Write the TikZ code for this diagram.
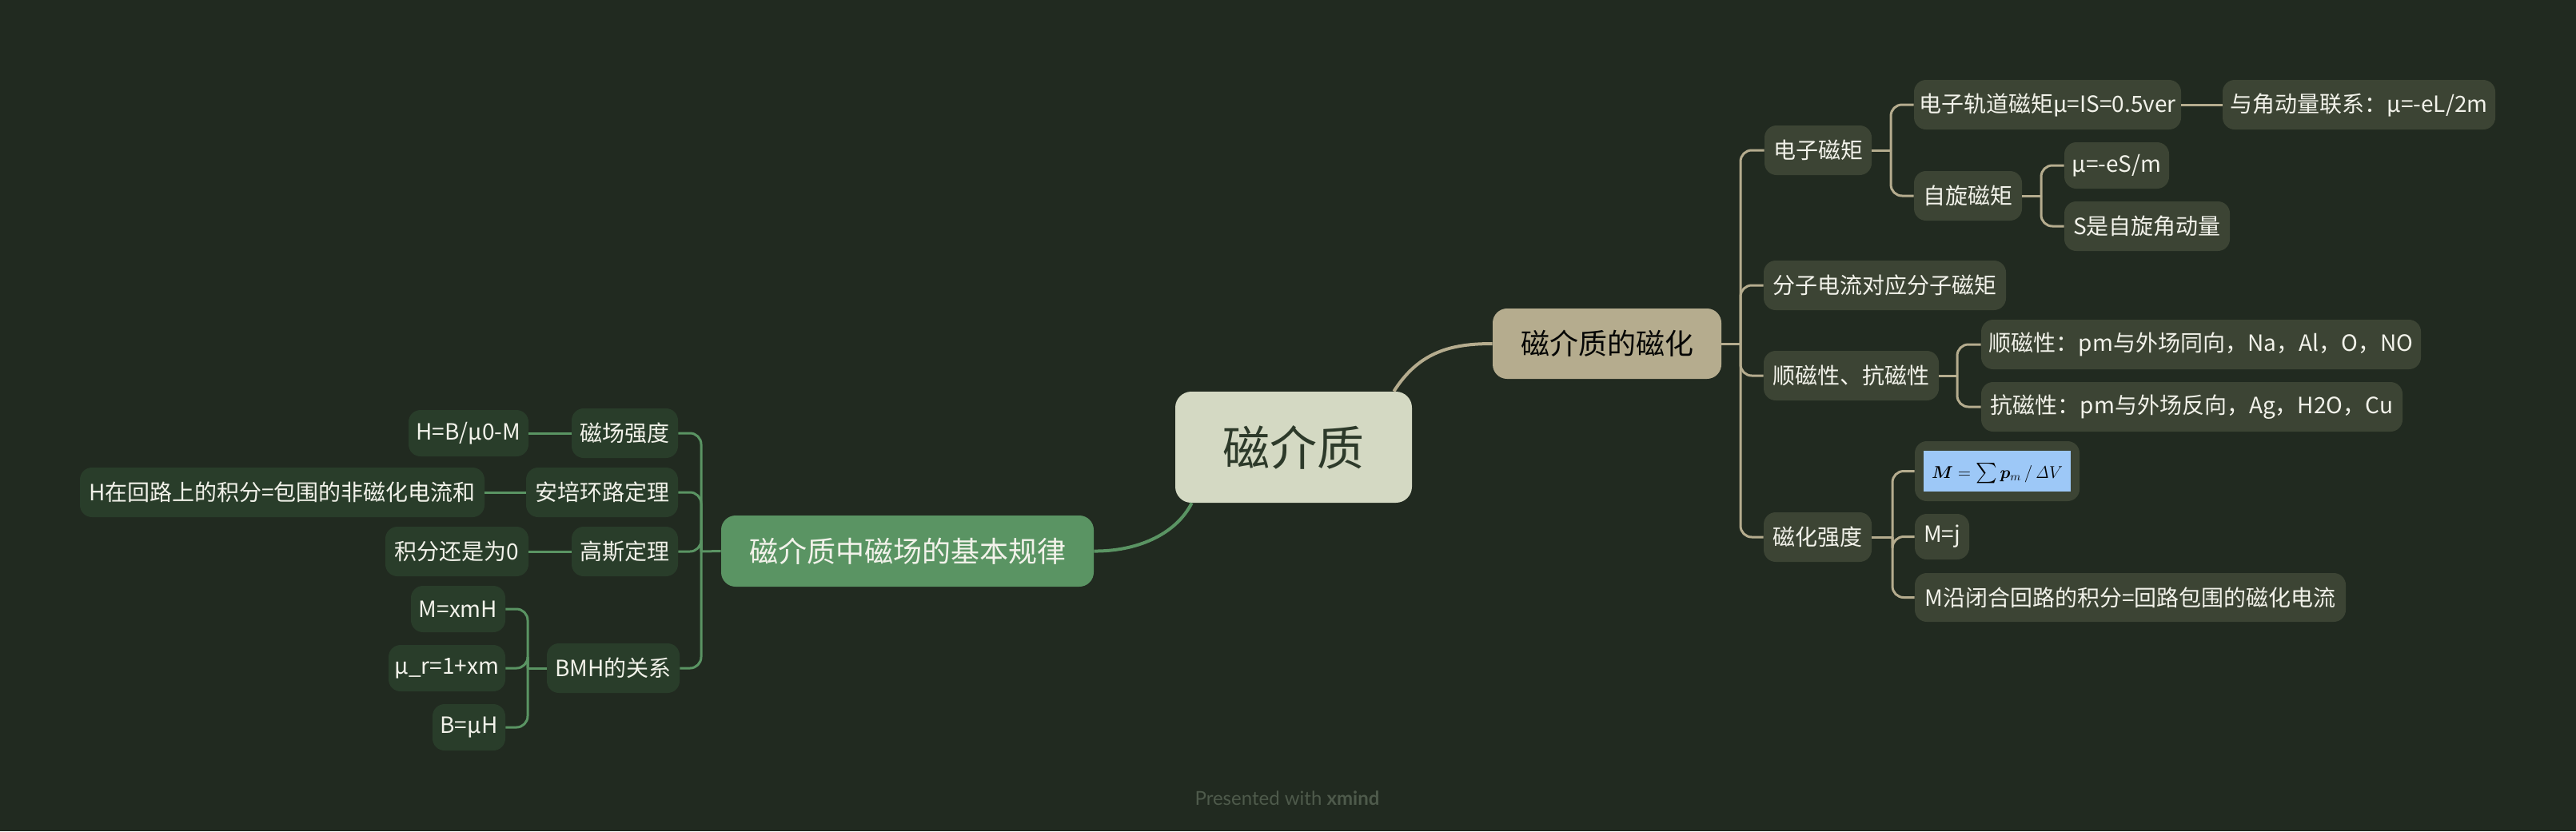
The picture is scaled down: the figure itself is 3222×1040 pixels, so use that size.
\documentclass[tikz,border=0pt]{standalone}
\usepackage[no-math]{fontspec}
\setmainfont{Noto Sans CJK SC}
\newfontfamily\footfont{Lato}
\usepackage{bm}
\usepackage{graphicx}
\definecolor{bg}{HTML}{212A20}
\definecolor{rfill}{HTML}{3C4434}
\definecolor{lfill}{HTML}{293D2A}
\definecolor{tanc}{HTML}{B5AC8E}
\definecolor{grn}{HTML}{5A9463}
\definecolor{rootfill}{HTML}{D4D9C3}
\definecolor{roottext}{HTML}{2D3A2A}
\definecolor{ntext}{HTML}{F2F2EA}
\definecolor{footc}{HTML}{4E5A4B}
\definecolor{fblue}{HTML}{9DC8F7}
\begin{document}
\begin{tikzpicture}[x=0.5pt,y=-0.5pt,
  rnode/.style={fill=rfill, text=ntext, rounded corners=7.5pt, inner sep=0pt,
    font=\fontsize{14}{16}\selectfont, minimum height=31pt},
  lnode/.style={rnode, fill=lfill},
  sm/.style={minimum height=29pt},
  tanline/.style={draw=tanc, line width=1.5pt},
  grline/.style={draw=grn, line width=1.5pt}]
\fill[bg] (0,0) rectangle (3222,1040);
\useasboundingbox (0,0) rectangle (3222,1040);

% central
\node[fill=rootfill, text=roottext, rounded corners=10pt, inner sep=0pt,
  minimum width=148pt, minimum height=69.5pt, font=\fontsize{29.5}{32}\selectfont]
  (root) at (1618,559.5) {磁介质};

% right main branch
\node[fill=tanc, text=black!85!bg, rounded corners=9pt, inner sep=0pt,
  minimum width=143pt, minimum height=44pt, font=\fontsize{18}{20}\selectfont]
  (mag) at (2010,430) {磁介质的磁化};

\node[rnode, minimum width=67pt] (e) at (2274,188) {电子磁矩};
\node[rnode, minimum width=167pt] (eo) at (2561,131) {电子轨道磁矩μ=IS=0.5ver};
\node[rnode, minimum width=170.5pt] (eol) at (2950.5,131) {与角动量联系：μ=-eL/2m};
\node[rnode, minimum width=67.5pt] (es) at (2461.5,245) {自旋磁矩};
\node[rnode, sm, minimum width=65.5pt] (es1) at (2647.5,207) {μ=-eS/m};
\node[rnode, minimum width=103.5pt] (es2) at (2685.5,283) {S是自旋角动量};
\node[rnode, minimum width=151.5pt] (mc) at (2357.5,357) {分子电流对应分子磁矩};
\node[rnode, minimum width=109.5pt] (pd) at (2315.5,470) {顺磁性、抗磁性};
\node[rnode, minimum width=275pt] (pa) at (2753,431) {顺磁性：pm与外场同向，Na，Al，O，NO};
\node[rnode, minimum width=263.5pt] (di) at (2741.5,509) {抗磁性：pm与外场反向，Ag，H2O，Cu};
\node[rnode, minimum width=67.5pt] (mi) at (2273.5,672) {磁化强度};
\node[rnode, minimum width=103pt, minimum height=37.5pt] (f) at (2498,589.5)
  {\fboxsep=0pt\colorbox{fblue}{\makebox[92pt][c]{\rule[-8.5pt]{0pt}{25.5pt}\color{black}\resizebox{82pt}{!}{$\bm{M} = \mathop{\vcenter{\hbox{\scalebox{1.7}{$\sum$}}}} \bm{p}_{m} \,/\, \mathit{\Delta} V$}}}};
\node[rnode, minimum width=34pt, minimum height=28.5pt] (mj) at (2429,671.5) {M=j};
\node[rnode, minimum width=269.5pt, minimum height=30.5pt] (ml) at (2664.5,747.5) {M沿闭合回路的积分=回路包围的磁化电流};

% left main branch
\node[fill=grn, text=ntext, rounded corners=9pt, inner sep=0pt,
  minimum width=233pt, minimum height=44.5pt, font=\fontsize{18}{20}\selectfont]
  (law) at (1135,689.5) {磁介质中磁场的基本规律};

\node[lnode, minimum width=66.5pt] (hs) at (781.5,542) {磁场强度};
\node[lnode, sm, minimum width=75pt] (hs1) at (586,542) {H=B/μ0-M};
\node[lnode, minimum width=95pt] (am) at (753,616) {安培环路定理};
\node[lnode, minimum width=253pt] (am1) at (353,616) {H在回路上的积分=包围的非磁化电流和};
\node[lnode, minimum width=66.5pt] (ga) at (781.5,690) {高斯定理};
\node[lnode, minimum width=89.5pt] (ga1) at (571.5,690) {积分还是为0};
\node[lnode, minimum width=83pt] (bmh) at (767,836) {BMH的关系};
\node[lnode, sm, minimum width=59pt] (b1) at (573,762) {M=xmH};
\node[lnode, sm, minimum width=73pt] (b2) at (559,836) {μ\_r=1+xm};
\node[lnode, sm, minimum width=45.5pt] (b3) at (586.5,910) {B=μH};

% footer
\node[text=footc, font=\footfont\fontsize{12}{14}\selectfont] (foot) at (1610,999)
  {Presented with \textbf{xmind}};

% junction coordinates
\coordinate (jA) at (2177,430);
\coordinate (je) at (2365,188);
\coordinate (js) at (2553,245);
\coordinate (jp) at (2448,470);
\coordinate (jm) at (2367,672);
\coordinate (jl) at (877,690);
\coordinate (jb) at (660,836);

% main curves
\draw[draw=tanc, line width=2pt] ([xshift=-11.5pt]root.north east)
  .. controls (1775,440) and (1815,430) .. (mag.west);
\draw[draw=grn, line width=2pt] ([xshift=10.5pt]root.south west)
  .. controls (1470,670) and (1420,690) .. (law.east);

% right connectors
\draw[tanline] (mag.east) -- (jA);
\foreach \c in {e,mc,pd,mi} \draw[tanline, rounded corners=7pt] (jA) |- (\c.west);
\draw[tanline] (e.east) -- (je);
\foreach \c in {eo,es} \draw[tanline, rounded corners=7pt] (je) |- (\c.west);
\draw[tanline] (eo.east) -- (eol.west);
\draw[tanline] (es.east) -- (js);
\foreach \c in {es1,es2} \draw[tanline, rounded corners=7pt] (js) |- (\c.west);
\draw[tanline] (pd.east) -- (jp);
\foreach \c in {pa,di} \draw[tanline, rounded corners=7pt] (jp) |- (\c.west);
\draw[tanline] (mi.east) -- (jm);
\foreach \c in {f,mj,ml} \draw[tanline, rounded corners=7pt] (jm) |- (\c.west);

% left connectors
\draw[grline] (law.west) -- (jl);
\foreach \c in {hs,am,ga,bmh} \draw[grline, rounded corners=7pt] (jl) |- (\c.east);
\draw[grline] (hs.west) -- (hs1.east);
\draw[grline] (am.west) -- (am1.east);
\draw[grline] (ga.west) -- (ga1.east);
\draw[grline] (bmh.west) -- (jb);
\foreach \c in {b1,b2,b3} \draw[grline, rounded corners=7pt] (jb) |- (\c.east);
\end{tikzpicture}
\end{document}
